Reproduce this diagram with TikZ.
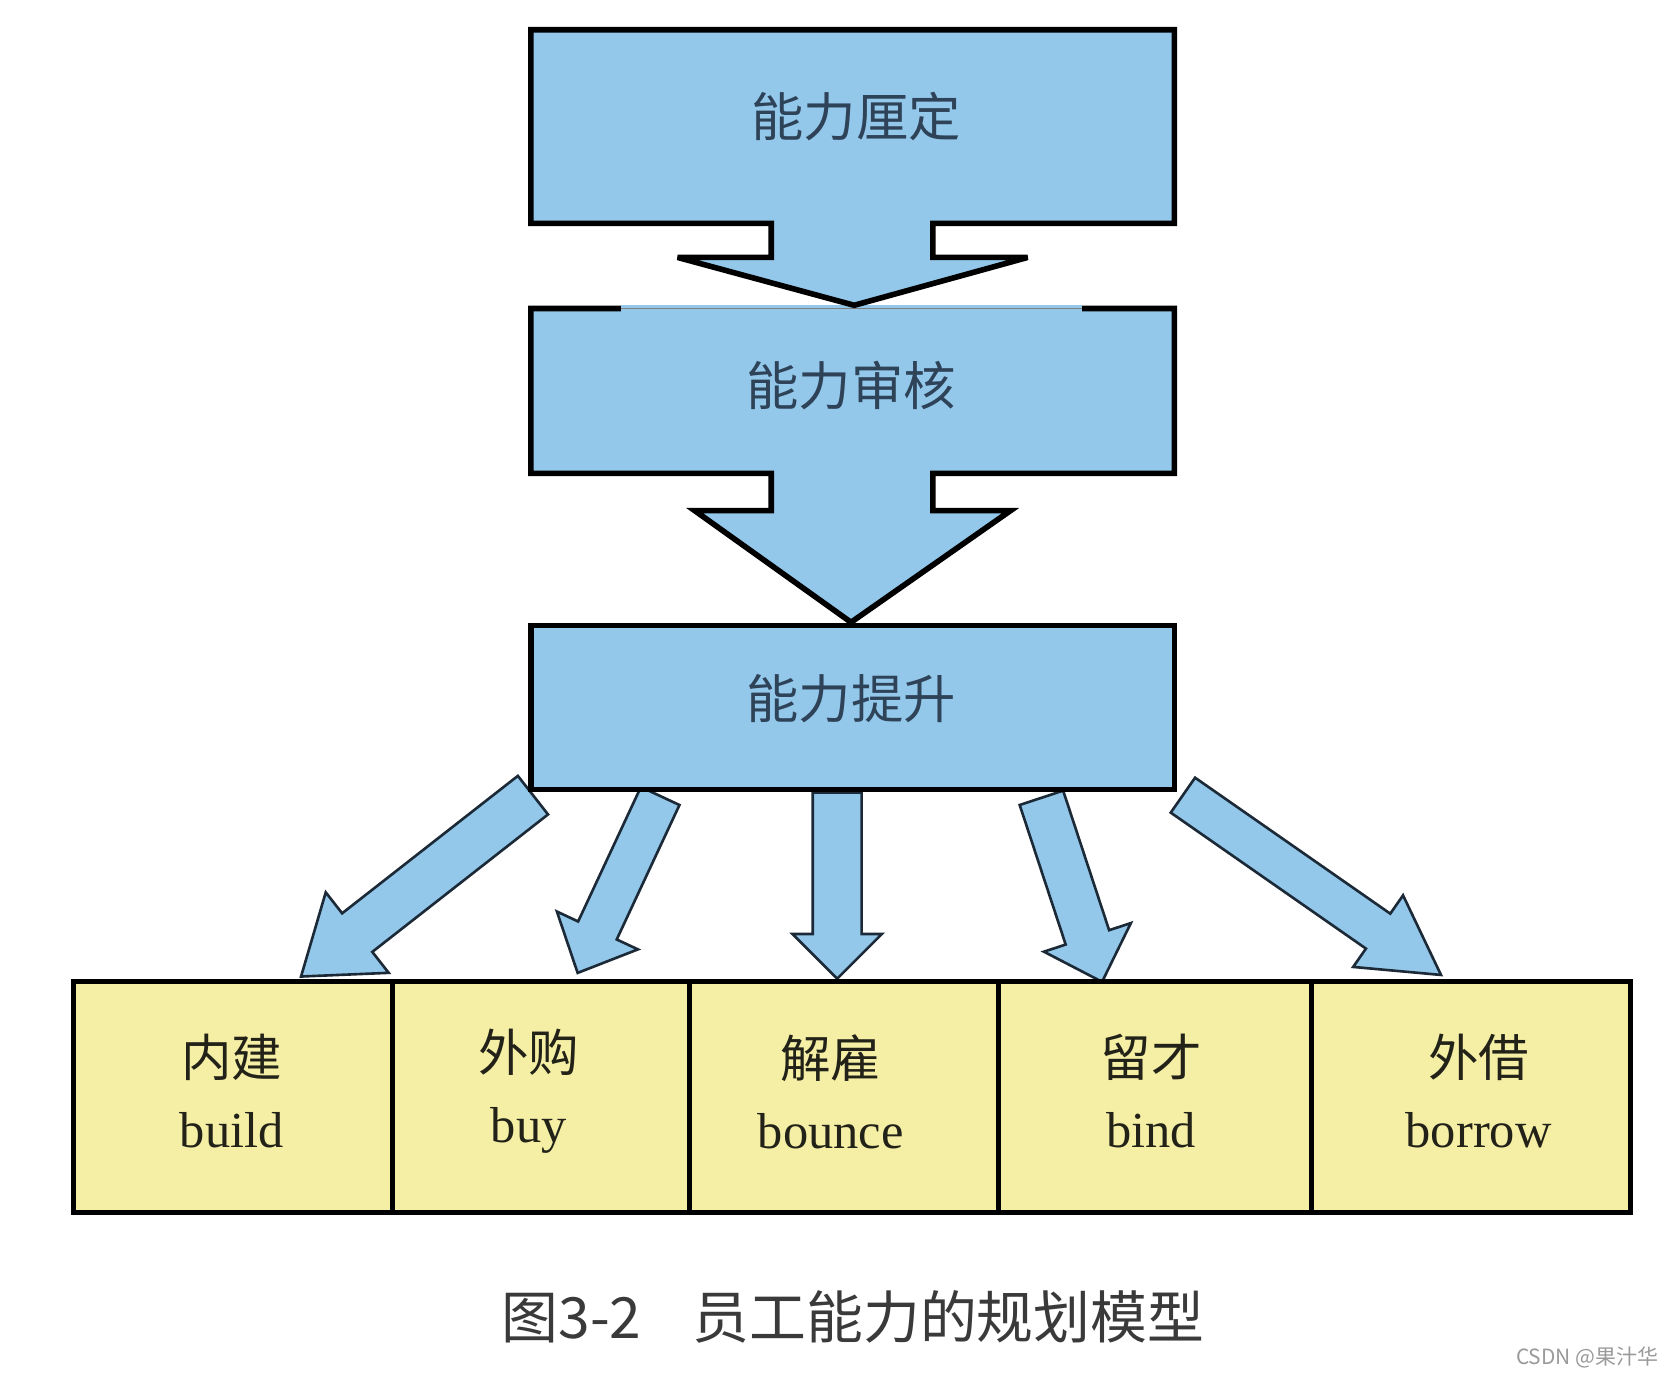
\documentclass[tikz,border=0pt]{standalone}
\usepackage{fontspec}
\setmainfont{Liberation Serif}
\newfontfamily\cjk{Noto Sans CJK SC}
\usetikzlibrary{calc}
\definecolor{boxblue}{HTML}{93C8EB}
\definecolor{celly}{HTML}{F5EFA6}
\definecolor{bluetext}{HTML}{2E4258}
\definecolor{celltext}{HTML}{222218}
\definecolor{arrline}{HTML}{1C2A38}
\definecolor{captext}{HTML}{3A3A3A}
\definecolor{wmgray}{HTML}{9A9A9A}

% tail, tip, shaft half width, head half width, head length
\newcommand{\fatarrow}[5]{%
  \coordinate (hb) at ($(#2)!#5!(#1)$);
  \draw[fatline] ($(#1)!#3!90:(#2)$) -- ($(hb)!#3!90:(#2)$) -- ($(hb)!#4!90:(#2)$) -- (#2)
    -- ($(hb)!#4!-90:(#2)$) -- ($(hb)!#3!-90:(#2)$) -- ($(#1)!#3!-90:(#2)$) -- cycle;
}

\begin{document}
\begin{tikzpicture}[x=0.01cm, y=-0.01cm,
    bluestep/.style={fill=boxblue, draw=black, line width=1.5pt, miter limit=4},
    steptext/.style={font=\cjk\fontsize{14}{16}\selectfont, text=bluetext},
    cell/.style={draw=black, fill=celly, line width=1.4pt, minimum height=2.17cm,
                 inner sep=0pt, outer sep=0pt},
    celllabel/.style={align=center, text=celltext, font=\fontsize{13.5}{19}\selectfont},
    fatline/.style={fill=boxblue, draw=arrline, line width=0.7pt}]
    \fill[white] (0,0) rectangle (1568,1292);
    \useasboundingbox (0,0) rectangle (1568,1292);

    % fan of arrows under the third box
    \coordinate (t1) at (501,747.5); \coordinate (p1) at (283,918);
    \coordinate (t2) at (620.6,748.3); \coordinate (p2) at (543,914.6);
    \coordinate (t3) at (787,745); \coordinate (p3) at (787,920);
    \coordinate (t4) at (979,750); \coordinate (p4) at (1036,923);
    \coordinate (t5) at (1112,747.5); \coordinate (p5) at (1354.6,916.5);
    \fatarrow{t1}{p1}{0.23cm}{0.48cm}{0.67cm}
    \fatarrow{t2}{p2}{0.20cm}{0.42cm}{0.44cm}
    \fatarrow{t3}{p3}{0.23cm}{0.42cm}{0.42cm}
    \fatarrow{t4}{p4}{0.215cm}{0.43cm}{0.44cm}
    \fatarrow{t5}{p5}{0.20cm}{0.41cm}{0.72cm}

    % bottom row
    \node[cell, minimum width=3.00cm] (build) at (219,1031.5) {};
    \node[cell, minimum width=2.79cm] (buy) at (508.5,1031.5) {};
    \node[cell, minimum width=2.91cm] (bounce) at (793.5,1031.5) {};
    \node[cell, minimum width=2.94cm] (bind) at (1086,1031.5) {};
    \node[cell, minimum width=3.00cm] (borrow) at (1383,1031.5) {};
    \node[celllabel] (lbuild) at (218,1026) {{\cjk 内建}\\build};
    \node[celllabel] (lbuy) at (497,1026) {{\cjk 外购}\\buy};
    \node[celllabel] (lbounce) at (781,1026) {{\cjk 解雇}\\bounce};
    \node[celllabel] (lbind) at (1082,1026) {{\cjk 留才}\\bind};
    \node[celllabel] (lborrow) at (1390,1026) {{\cjk 外借}\\borrow};

    % the three steps
    \draw[bluestep] (499,588) rectangle (1104,742);
    \draw[bluestep] (499,290) -- (1104,290) -- (1104,445) -- (877,445) -- (877,480)
        -- (950,480) -- (800,585) -- (653,480) -- (725,480) -- (725,445) -- (499,445) -- cycle;
    \fill[boxblue] (584,287) rectangle (1017,293);
    \draw[line width=0.4pt, gray] (584,290) -- (1017,290);
    \draw[bluestep] (499,28) -- (1104,28) -- (1104,210) -- (877,210) -- (877,242)
        -- (966,242) -- (803,287) -- (637,242) -- (725,242) -- (725,210) -- (499,210) -- cycle;
    \node[steptext] (define) at (805,110) {能力厘定};
    \node[steptext] (audit) at (800,362) {能力审核};
    \node[steptext] (improve) at (800,657) {能力提升};

    \node[font=\cjk\fontsize{15.2}{18}\selectfont, text=captext] (cap) at (802,1238)
        {图3-2\hspace{0.9em}员工能力的规划模型};
    \node[font=\cjk\fontsize{5.6}{7}\selectfont, text=wmgray] (wm) at (1492,1276) {CSDN @果汁华};
\end{tikzpicture}
\end{document}
